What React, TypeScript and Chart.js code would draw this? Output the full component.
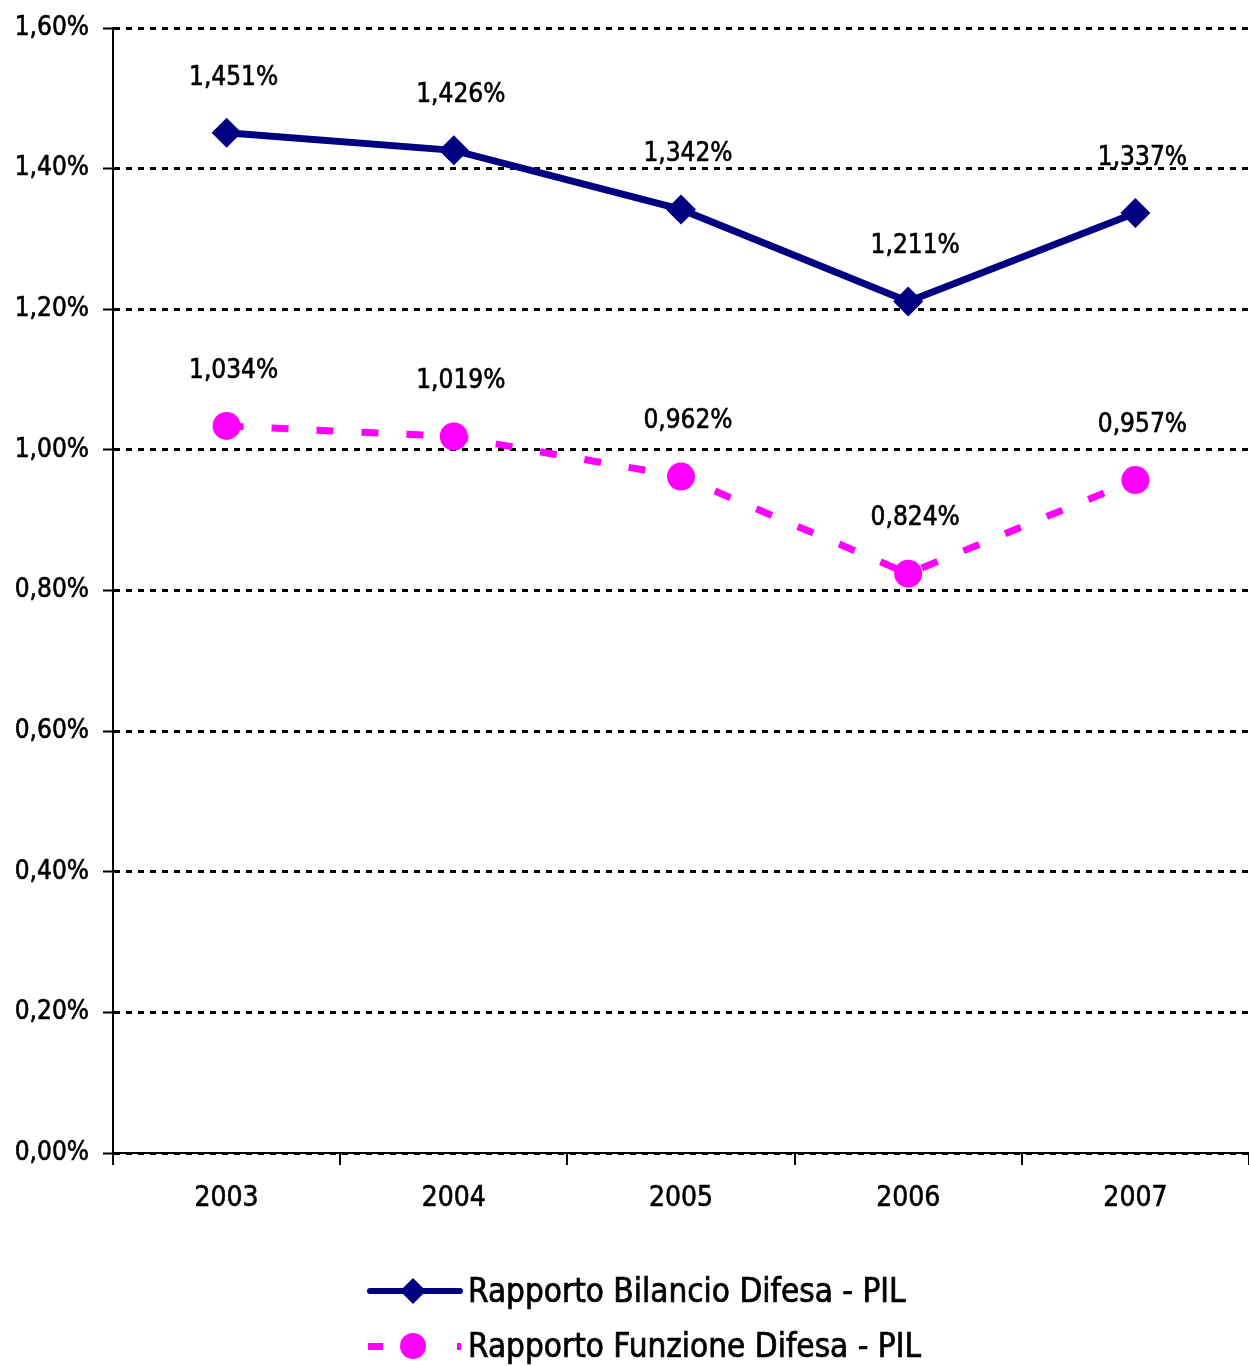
import React, { useEffect, useRef } from 'react';
import { Chart, registerables } from 'chart.js';

Chart.register(...registerables);

const years = ['2003', '2004', '2005', '2006', '2007'];
const bilancioDifesa = [1.451, 1.426, 1.342, 1.211, 1.337];
const funzioneDifesa = [1.034, 1.019, 0.962, 0.824, 0.957];
const yTickLabels = ['0,00%', '0,20%', '0,40%', '0,60%', '0,80%', '1,00%', '1,20%', '1,40%', '1,60%'];
const seriesNames = ['Rapporto Bilancio Difesa - PIL', 'Rapporto Funzione Difesa - PIL'];

const FONT = '"Liberation Sans Narrow", "Arial Narrow", "DejaVu Sans Condensed", sans-serif';
const NAVY = '#000080';
const MAGENTA = '#FF00FF';

const fmtLabel = (v: number) => v.toFixed(3).replace('.', ',') + '%';

const dataLabelPlugin = {
  id: 'dataLabels',
  afterDatasetsDraw(chart: any) {
    const ctx = chart.ctx;
    ctx.save();
    ctx.font = `26px ${FONT}`;
    ctx.fillStyle = '#000';
    ctx.strokeStyle = '#000';
    ctx.lineWidth = 0.6;
    ctx.textAlign = 'center';
    ctx.textBaseline = 'middle';
    chart.data.datasets.forEach((ds: any, di: number) => {
      const meta = chart.getDatasetMeta(di);
      meta.data.forEach((pt: any, i: number) => {
        const t = fmtLabel(ds.data[i]);
        ctx.fillText(t, pt.x + 7, pt.y - 55);
        ctx.strokeText(t, pt.x + 7, pt.y - 55);
      });
    });
    ctx.restore();
  },
};

const legendPlugin = {
  id: 'customLegend',
  afterDraw(chart: any) {
    const ctx = chart.ctx;
    const x0 = 368;
    const rows = [1291, 1346];
    ctx.save();
    ctx.strokeStyle = NAVY;
    ctx.lineWidth = 6;
    ctx.lineCap = 'round';
    ctx.beginPath();
    ctx.moveTo(x0 + 2, rows[0]);
    ctx.lineTo(x0 + 92, rows[0]);
    ctx.stroke();
    ctx.fillStyle = NAVY;
    ctx.beginPath();
    const cx = x0 + 45;
    ctx.moveTo(cx, rows[0] - 13);
    ctx.lineTo(cx + 13, rows[0]);
    ctx.lineTo(cx, rows[0] + 13);
    ctx.lineTo(cx - 13, rows[0]);
    ctx.closePath();
    ctx.fill();
    ctx.fillStyle = MAGENTA;
    ctx.fillRect(x0, rows[1] - 3, 15, 7);
    ctx.fillRect(x0 + 89, rows[1] - 3, 4, 7);
    ctx.beginPath();
    ctx.arc(cx, rows[1], 13, 0, Math.PI * 2);
    ctx.fill();
    ctx.fillStyle = '#000';
    ctx.strokeStyle = '#000';
    ctx.lineWidth = 0.7;
    ctx.font = `33px ${FONT}`;
    ctx.textAlign = 'left';
    ctx.textBaseline = 'middle';
    seriesNames.forEach((name, i) => {
      ctx.fillText(name, x0 + 100, rows[i] + 2);
      ctx.strokeText(name, x0 + 100, rows[i] + 2);
    });
    ctx.restore();
  },
};

export default function App() {
  const canvasRef = useRef<HTMLCanvasElement | null>(null);

  useEffect(() => {
    if (!canvasRef.current) return;
    const chart = new Chart(canvasRef.current, {
      type: 'line',
      data: {
        labels: years,
        datasets: [
          {
            label: seriesNames[0],
            data: bilancioDifesa,
            borderColor: NAVY,
            backgroundColor: NAVY,
            borderWidth: 7,
            pointStyle: 'rectRot',
            pointRadius: 15,
            pointBackgroundColor: NAVY,
            pointBorderColor: NAVY,
            pointBorderWidth: 0,
            tension: 0,
            fill: false,
          },
          {
            label: seriesNames[1],
            data: funzioneDifesa,
            borderColor: MAGENTA,
            backgroundColor: MAGENTA,
            borderWidth: 7,
            borderDash: [17, 28],
            pointStyle: 'circle',
            pointRadius: 14,
            pointBackgroundColor: MAGENTA,
            pointBorderColor: MAGENTA,
            pointBorderWidth: 0,
            tension: 0,
            fill: false,
          },
        ],
      },
      options: {
        responsive: false,
        animation: false,
        layout: { autoPadding: false, padding: { top: 28, right: 0, bottom: 0, left: 0 } },
        plugins: {
          legend: { display: false },
          tooltip: { enabled: false },
        },
        scales: {
          x: {
            offset: true,
            grid: {
              offset: true,
              drawOnChartArea: false,
              drawTicks: true,
              tickLength: 12,
              color: '#000',
              lineWidth: 2,
              tickWidth: 2,
              tickColor: '#000',
            },
            border: { display: true, color: '#000', width: 2 },
            ticks: {
              color: '#000',
              font: { family: FONT, size: 28 },
              padding: 17,
              maxRotation: 0,
              textStrokeColor: '#000',
              textStrokeWidth: 0.6,
            },
            afterFit(scale: any) {
              scale.height = 213;
              scale.paddingLeft = 0;
              scale.paddingRight = 0;
            },
          },
          y: {
            min: 0,
            max: 1.6,
            grid: {
              color: '#000',
              lineWidth: 3,
              drawTicks: true,
              tickLength: 10,
              tickWidth: 2,
              tickColor: '#000',
              tickBorderDash: [],
            },
            border: { display: true, color: '#000', width: 2, dash: [6, 6] },
            ticks: {
              stepSize: 0.2,
              color: '#000',
              font: { family: FONT, size: 26 },
              padding: 14,
              textStrokeColor: '#000',
              textStrokeWidth: 0.6,
              callback: (_v: any, i: number) => yTickLabels[i],
            },
            afterFit(scale: any) {
              scale.width = 113;
              scale.paddingTop = 0;
              scale.paddingBottom = 0;
            },
          },
        },
      },
      plugins: [dataLabelPlugin, legendPlugin],
    });
    return () => chart.destroy();
  }, []);

  return (
    <div style={{ position: 'absolute', left: 0, top: 0, width: 1249, height: 1366, background: '#fff' }}>
      <canvas ref={canvasRef} width={1249} height={1366} style={{ display: 'block' }} />
    </div>
  );
}
